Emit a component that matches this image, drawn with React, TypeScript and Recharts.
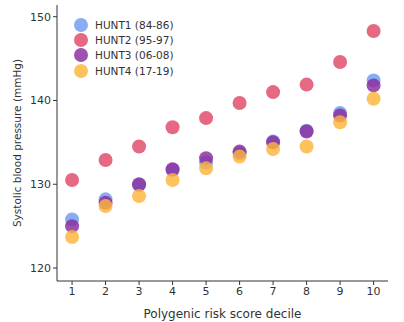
import React from "react";
import { ScatterChart, Scatter, XAxis, YAxis } from "recharts";

const deciles = [1, 2, 3, 4, 5, 6, 7, 8, 9, 10];
const hunt1 = [125.8, 128.2, 129.9, 131.7, 132.6, 133.7, 135.1, 136.4, 138.5, 142.4];
const hunt2 = [130.5, 132.9, 134.5, 136.8, 137.9, 139.7, 141.0, 141.9, 144.6, 148.3];
const hunt3 = [125.0, 127.8, 130.0, 131.8, 133.1, 133.9, 135.0, 136.3, 138.2, 141.8];
const hunt4 = [123.7, 127.4, 128.6, 130.5, 131.9, 133.3, 134.2, 134.5, 137.4, 140.2];
const yTicks = [120, 130, 140, 150];

const series = [
  { name: "HUNT1 (84-86)", values: hunt1, color: "#6f9bf0" },
  { name: "HUNT2 (95-97)", values: hunt2, color: "#e04868" },
  { name: "HUNT3 (06-08)", values: hunt3, color: "#8a2b9e" },
  { name: "HUNT4 (17-19)", values: hunt4, color: "#fdb43a" },
];

const toPoints = (values: number[]) =>
  deciles.map((d, i) => ({ x: d, y: values[i] }));

const Dot = (color: string) => (props: any) => (
  <circle cx={props.cx} cy={props.cy} r={7} fill={color} fillOpacity={0.82} />
);

// legend sits inside the plot, top-left
const LegendBox = () => (
  <div
    style={{
      position: "absolute",
      left: 74,
      top: 17,
      fontFamily: "DejaVu Sans",
      fontSize: 10.5,
      color: "#333",
    }}
  >
    {series.map((s) => (
      <div
        key={s.name}
        style={{ display: "flex", alignItems: "center", height: 15.3 }}
      >
        <svg width={14} height={14} style={{ marginRight: 7 }}>
          <circle cx={7} cy={7} r={7} fill={s.color} fillOpacity={0.82} />
        </svg>
        <span>{s.name}</span>
      </div>
    ))}
  </div>
);

const App: React.FC = () => {
  return (
    <div style={{ position: "absolute", left: 0, top: 0, width: 404, height: 322, background: "#fff" }}>
      <ScatterChart
        width={404}
        height={322}
        margin={{ top: 5, right: 16, left: 0, bottom: 0 }}
        style={{ fontFamily: "DejaVu Sans" }}
      >
        <XAxis
          type="number"
          dataKey="x"
          domain={[0.55, 10.43]}
          ticks={deciles}
          height={41}
          stroke="#333"
          tick={{ fill: "#333", fontSize: 11 }}
          tickSize={4}
          label={{
            value: "Polygenic risk score decile",
            position: "insideBottom",
            offset: 4,
            fill: "#333",
            fontSize: 12,
          }}
        />
        <YAxis
          type="number"
          dataKey="y"
          domain={[118.45, 151.4]}
          ticks={yTicks}
          width={57}
          stroke="#333"
          tick={{ fill: "#333", fontSize: 11 }}
          tickSize={4}
          label={{
            value: "Systolic blood pressure (mmHg)",
            angle: -90,
            position: "insideLeft",
            offset: 17,
            style: { textAnchor: "middle" },
            fill: "#333",
            fontSize: 10.5,
          }}
        />
        {series.map((s) => (
          <Scatter
            key={s.name}
            name={s.name}
            data={toPoints(s.values)}
            fill={s.color}
            shape={Dot(s.color)}
            isAnimationActive={false}
          />
        ))}
      </ScatterChart>
      <LegendBox />
    </div>
  );
};

export default App;
